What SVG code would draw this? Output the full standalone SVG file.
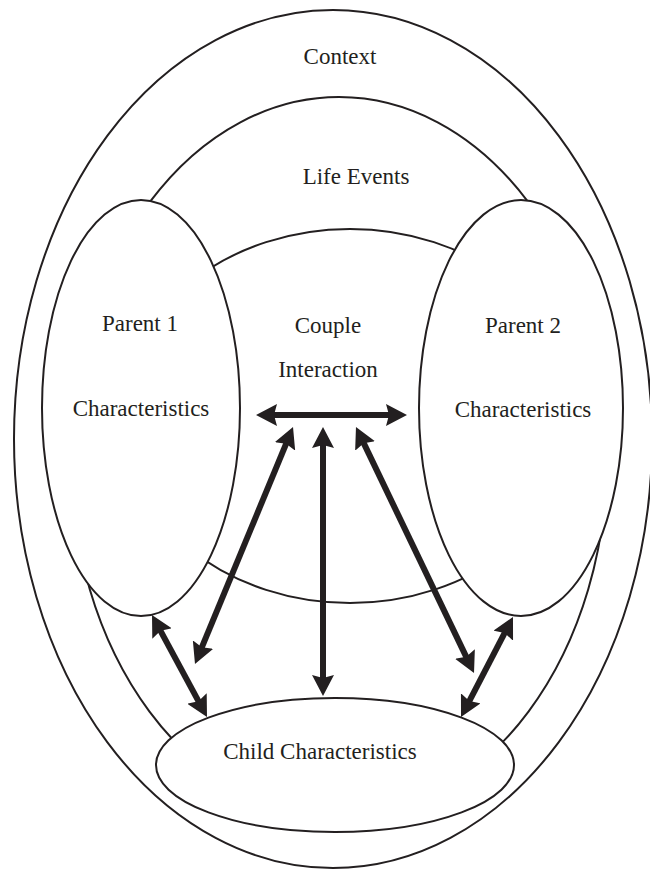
<svg xmlns="http://www.w3.org/2000/svg" width="650" height="870" viewBox="0 0 650 870">
  <style>
    .ring { fill: #ffffff; stroke: #231f20; stroke-width: 2; }
    .label { font-family: "Liberation Serif", "Times New Roman", serif; font-size: 23px; fill: #231f20; text-anchor: middle; }
    .shaft { stroke: #231f20; stroke-width: 6; fill: none; marker-start: url(#head); marker-end: url(#head); }
  </style>
  <defs>
    <!-- notched arrowhead; tip sits 16px beyond the line end -->
    <marker id="head" viewBox="0 0 21 22" markerUnits="userSpaceOnUse" markerWidth="21" markerHeight="22" refX="5" refY="11" orient="auto-start-reverse">
      <path d="M21,11 L0,0 L3,11 L0,22 Z" fill="#231f20"/>
    </marker>
  </defs>

  <rect width="650" height="870" fill="#ffffff"/>

  <!-- nested contexts -->
  <g id="context">
    <ellipse class="ring" cx="333" cy="439" rx="319" ry="429"/>
    <text class="label" x="340" y="64">Context</text>
  </g>
  <g id="life-events">
    <ellipse class="ring" cx="339" cy="457" rx="268" ry="360"/>
    <text class="label" x="356" y="184">Life Events</text>
  </g>
  <g id="couple-interaction">
    <ellipse class="ring" cx="350" cy="416" rx="228" ry="187"/>
    <text class="label" x="328" y="333">Couple</text>
    <text class="label" x="328" y="377">Interaction</text>
  </g>

  <!-- individuals -->
  <g id="parent-1">
    <ellipse class="ring" cx="141" cy="408" rx="99" ry="208"/>
    <text class="label" x="140" y="331">Parent 1</text>
    <text class="label" x="141" y="416">Characteristics</text>
  </g>
  <g id="parent-2">
    <ellipse class="ring" cx="521" cy="408" rx="102" ry="208"/>
    <text class="label" x="523" y="333">Parent 2</text>
    <text class="label" x="523" y="417">Characteristics</text>
  </g>
  <g id="child">
    <ellipse class="ring" cx="335" cy="765" rx="179" ry="67"/>
    <text class="label" x="320" y="759">Child Characteristics</text>
  </g>

  <!-- two-way influences -->
  <g id="connectors">
    <line class="shaft" x1="272" y1="415" x2="391" y2="415"/>
    <line class="shaft" x1="323" y1="443" x2="323" y2="680"/>
    <line class="shaft" x1="286.9" y1="441.8" x2="201.1" y2="649.2"/>
    <line class="shaft" x1="362.9" y1="441.4" x2="467.1" y2="658.6"/>
    <line class="shaft" x1="159.6" y1="629.1" x2="199.4" y2="702.9"/>
    <line class="shaft" x1="505.6" y1="631.2" x2="468.4" y2="702.8"/>
  </g>
</svg>
